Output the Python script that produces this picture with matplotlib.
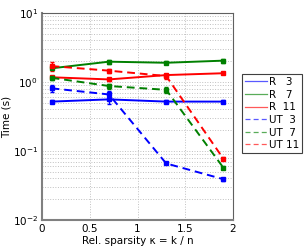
import matplotlib
matplotlib.use("Agg")
import matplotlib.pyplot as plt
from matplotlib.lines import Line2D

kappa = [0.1, 0.7, 1.3, 1.9]

r3 = [0.52, 0.56, 0.52, 0.52]
r7 = [1.58, 1.97, 1.90, 2.04]
r11 = [1.17, 1.09, 1.26, 1.34]
ut3 = [0.81, 0.66, 0.066, 0.039]
ut7 = [1.15, 0.875, 0.77, 0.057]
ut11 = [1.70, 1.46, 1.22, 0.077]

r3_err = [0.02, 0.08, 0.02, 0.02]
r7_err = [0.06, 0.12, 0.10, 0.14]
r11_err = [0.05, 0.06, 0.04, 0.03]
ut3_err = [0.10, 0.08, 0.002, 0.002]
ut7_err = [0.08, 0.07, 0.07, 0.003]
ut11_err = [0.25, 0.10, 0.10, 0.004]

labels = ["R   3", "R   7", "R  11", "UT  3", "UT  7", "UT 11"]

blue = (0, 0, 1)
green = (0, 0.5, 0)
red = (1, 0, 0)

plt.rcParams["font.family"] = ["DejaVu Sans"]
plt.rcParams["font.size"] = 7.5

fig = plt.figure(figsize=(3.07, 2.5), dpi=100)
ax = fig.add_axes([0.137, 0.12, 0.622, 0.828])

series = [
    (r3, r3_err, blue, "-"),
    (r7, r7_err, green, "-"),
    (r11, r11_err, red, "-"),
    (ut3, ut3_err, blue, (0, (4, 2.5))),
    (ut7, ut7_err, green, (0, (4, 2.5))),
    (ut11, ut11_err, red, (0, (4, 2.5))),
]

for vals, err, col, ls in series:
    ax.errorbar(kappa, vals, yerr=err, color=col, linestyle=ls, linewidth=1.4,
                marker="s", markersize=2.5, capsize=1.5, elinewidth=1.0,
                capthick=1.0)

ax.set_yscale("log")
ax.set_ylim(1e-2, 1e1)
ax.set_xlim(0, 2)
ax.set_xticks([0, 0.5, 1, 1.5, 2])
ax.set_xticklabels(["0", "0.5", "1", "1.5", "2"])
ax.grid(True, which="major", linestyle=":", color="#c0c0c0", linewidth=0.7)
ax.grid(True, which="minor", axis="y", linestyle=":", color="#c0c0c0", linewidth=0.7)
ax.tick_params(which="both", direction="in", length=0, pad=3)

for side in ["left", "bottom"]:
    ax.spines[side].set_color("#808080")
    ax.spines[side].set_linewidth(1.5)
for side in ["top", "right"]:
    ax.spines[side].set_color("#606060")
    ax.spines[side].set_linewidth(0.8)

ax.set_xlabel("Rel. sparsity \u03ba = k / n", labelpad=1)
ax.set_ylabel("Time (s)", labelpad=1)

handles = []
for (vals, err, col, ls), lab in zip(series, labels):
    handles.append(Line2D([0], [0], color=col, linestyle=ls, linewidth=0.9,
                          alpha=0.65, label=lab))
leg = fig.legend(handles=handles, loc="upper left",
                 bbox_to_anchor=(0.788, 0.704),
                 fancybox=False, edgecolor="#404040", framealpha=1,
                 handlelength=2.1, handletextpad=0.2, labelspacing=0.25,
                 borderpad=0.3, borderaxespad=0, fontsize=7.5)
leg.get_frame().set_linewidth(0.8)

fig.savefig("out.png", dpi=100)
